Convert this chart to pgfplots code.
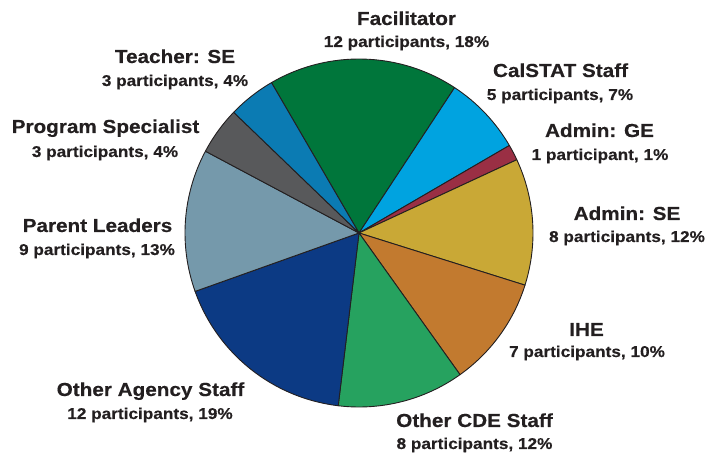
\documentclass[border=0pt]{standalone}
\usepackage{pgfplots}
\pgfplotsset{compat=1.18}
\usepackage{pgfplotstable}
\usepackage{fontspec}
\setmainfont{Liberation Sans}
\newfontfamily\lab{Liberation Sans}[FakeStretch=1.1,BoldFeatures={FakeStretch=1.1,FakeBold=0.4}]
\definecolor{c0}{HTML}{00763B}
\definecolor{c1}{HTML}{00A3E0}
\definecolor{c2}{HTML}{9A2F44}
\definecolor{c3}{HTML}{C9A836}
\definecolor{c4}{HTML}{C27A2F}
\definecolor{c5}{HTML}{26A25F}
\definecolor{c6}{HTML}{0C3A84}
\definecolor{c7}{HTML}{7599AB}
\definecolor{c8}{HTML}{58595B}
\definecolor{c9}{HTML}{0B7BB3}
\definecolor{edge}{HTML}{231F20}
\definecolor{txt}{HTML}{231F20}
\pgfplotstableread[col sep=comma]{
name,count
Facilitator,12
CalSTAT Staff,5
Admin GE,1
Admin SE,8
IHE,7
Other CDE Staff,8
Other Agency Staff,12
Parent Leaders,9
Program Specialist,3
Teacher SE,3
}\piedata
\newcommand\ttl[1]{{\lab\bfseries\fontsize{18.9}{22}\selectfont #1}}
\newcommand\sub[1]{{\lab\bfseries\fontsize{15.7}{18}\selectfont #1}}
\begin{document}
\begin{tikzpicture}
\def\total{0}
\pgfplotsforeachungrouped \i in {0,...,9}{%
  \pgfplotstablegetelem{\i}{count}\of\piedata
  \pgfmathsetmacro\total{\total+\pgfplotsretval}}
\def\cur{120.2}
\pgfplotsforeachungrouped \i in {0,...,9}{%
  \pgfplotstablegetelem{\i}{count}\of\piedata
  \pgfmathsetmacro\nxt{\cur-360*\pgfplotsretval/\total}%
  \expandafter\xdef\csname sa\i\endcsname{\cur}%
  \expandafter\xdef\csname ea\i\endcsname{\nxt}%
  \let\cur\nxt}
\begin{axis}[x=1bp,y=1bp,xmin=0,xmax=705,ymin=0,ymax=459,hide axis,clip=false,scale only axis]
\path (axis cs:0,0) rectangle (axis cs:705,459);
\pgfplotsinvokeforeach{0,...,9}{%
  \edef\tmp{\noexpand\filldraw[fill=c#1,draw=edge,line width=0.9pt,line join=round] (axis cs:359,226) -- ([shift={(\csname sa#1\endcsname:174bp)}]axis cs:359,226) arc[start angle=\csname sa#1\endcsname, end angle=\csname ea#1\endcsname, radius=174bp] -- cycle;}\tmp
}
\tikzset{lbl/.style={anchor=base,inner sep=0pt,text=txt}}
\node[lbl] at (axis cs:406.5,434) {\ttl{Facilitator}};
\node[lbl] at (axis cs:406.5,412) {\sub{12 participants, 18\%}};
\node[lbl] at (axis cs:560.5,382) {\ttl{CalSTAT Staff}};
\node[lbl] at (axis cs:560,359) {\sub{5 participants, 7\%}};
\node[lbl] at (axis cs:599.5,322) {\ttl{Admin: GE}};
\node[lbl] at (axis cs:600,299) {\sub{1 participant, 1\%}};
\node[lbl] at (axis cs:627,239) {\ttl{Admin: SE}};
\node[lbl] at (axis cs:627,217) {\sub{8 participants, 12\%}};
\node[lbl] at (axis cs:586.5,123) {\ttl{IHE}};
\node[lbl] at (axis cs:587,102) {\sub{7 participants, 10\%}};
\node[lbl] at (axis cs:474.5,32) {\ttl{Other CDE Staff}};
\node[lbl] at (axis cs:474.5,10) {\sub{8 participants, 12\%}};
\node[lbl] at (axis cs:150.5,63) {\ttl{Other Agency Staff}};
\node[lbl] at (axis cs:150,40) {\sub{12 participants, 19\%}};
\node[lbl] at (axis cs:97.5,227) {\ttl{Parent Leaders}};
\node[lbl] at (axis cs:97,204) {\sub{9 participants, 13\%}};
\node[lbl] at (axis cs:105.5,326) {\ttl{Program Specialist}};
\node[lbl] at (axis cs:105,302) {\sub{3 participants, 4\%}};
\node[lbl] at (axis cs:175,396) {\ttl{Teacher: SE}};
\node[lbl] at (axis cs:175,373) {\sub{3 participants, 4\%}};
\end{axis}
\end{tikzpicture}
\end{document}
